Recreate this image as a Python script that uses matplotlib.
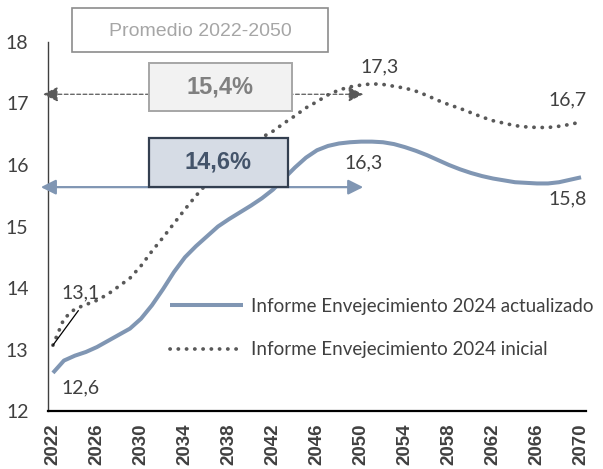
import matplotlib
matplotlib.use("Agg")
import matplotlib.pyplot as plt
from matplotlib.patches import Rectangle

years = list(range(2022, 2071))
actualizado = [12.62, 12.82, 12.90, 12.96, 13.04, 13.14, 13.24, 13.34, 13.50, 13.72,
               13.98, 14.26, 14.50, 14.68, 14.84, 15.00, 15.12, 15.23, 15.34, 15.46,
               15.60, 15.78, 15.96, 16.12, 16.24, 16.31, 16.35, 16.37, 16.38, 16.38,
               16.37, 16.34, 16.29, 16.23, 16.16, 16.08, 16.00, 15.93, 15.87, 15.82,
               15.78, 15.75, 15.72, 15.71, 15.70, 15.70, 15.72, 15.76, 15.80]
inicial = [13.07, 13.50, 13.66, 13.73, 13.80, 13.90, 14.03, 14.16, 14.36, 14.60,
           14.82, 15.05, 15.28, 15.50, 15.70, 15.88, 16.05, 16.20, 16.33, 16.45,
           16.55, 16.68, 16.80, 16.93, 17.03, 17.14, 17.22, 17.27, 17.30, 17.32,
           17.31, 17.28, 17.25, 17.20, 17.13, 17.05, 16.98, 16.92, 16.85, 16.78,
           16.72, 16.68, 16.64, 16.62, 16.61, 16.61, 16.63, 16.66, 16.70]
series_names = ["Informe Envejecimiento 2024 actualizado", "Informe Envejecimiento 2024 inicial"]
xticks = list(range(2022, 2071, 4))
yticks = [12, 13, 14, 15, 16, 17, 18]
avg_title = "Promedio 2022-2050"
avg_inicial_label = "15,4%"
avg_actual_label = "14,6%"
avg_period = (2022, 2050)
label_texts = {"start_act": "12,6", "start_ini": "13,1", "peak_act": "16,3",
               "peak_ini": "17,3", "end_act": "15,8", "end_ini": "16,7"}

W, H = 603, 469
fig = plt.figure(figsize=(W / 100, H / 100), dpi=100)
ax = fig.add_axes([48 / W, 58 / H, 538 / W, 369 / H])

def fx(px):
    return px / W

def fy(py):
    return 1 - py / H

BLUE = "#8096b3"
DOT = "#595959"
TXT = "#404040"
FONT = "Lato"

ax.plot(years, actualizado, color=BLUE, lw=2.9, solid_capstyle="butt", label=series_names[0], zorder=3)
ax.plot(years, inicial, color=DOT, lw=2.7, linestyle=(0, (0.05, 2.15)), dash_capstyle="round",
        label=series_names[1], zorder=3)

ax.set_xlim(2021.55, 2070.45)
ax.set_ylim(12, 18)
ax.set_xticks(xticks)
ax.set_xticklabels([str(t) for t in xticks], rotation=90, fontsize=13.5, color=TXT,
                   family="Liberation Sans", fontweight="bold")
ax.set_yticks(yticks)
ax.set_yticklabels([str(t) for t in yticks], fontsize=14, color=TXT, family=FONT)
ax.tick_params(axis="both", length=0)
ax.tick_params(axis="x", pad=9)
ax.tick_params(axis="y", pad=14)
for s in ["top", "right"]:
    ax.spines[s].set_visible(False)
ax.spines["left"].set_color("#404040")
ax.spines["left"].set_linewidth(1.0)
ax.spines["bottom"].set_color("#000000")
ax.spines["bottom"].set_linewidth(1.6)

# Average arrows (2022-2050)
y_ini_arrow = 17.15
y_act_arrow = 15.64
ax.annotate("", xy=(avg_period[0] - 0.9, y_ini_arrow), xytext=(avg_period[1] + 0.2, y_ini_arrow),
            arrowprops=dict(arrowstyle="<|-|>,head_length=0.9,head_width=0.45", color=DOT,
                            lw=0.9, linestyle=(0, (3, 2)), shrinkA=0, shrinkB=0),
            annotation_clip=False, zorder=4)
ax.annotate("", xy=(avg_period[0] - 1.1, y_act_arrow), xytext=(avg_period[1] + 0.2, y_act_arrow),
            arrowprops=dict(arrowstyle="<|-|>,head_length=0.9,head_width=0.45", color=BLUE,
                            lw=1.6, shrinkA=0, shrinkB=0),
            annotation_clip=False, zorder=4)

def box(x0, y0, x1, y1, fc, ec, lw, z):
    r = Rectangle((fx(x0), fy(y1)), fx(x1) - fx(x0), fy(y0) - fy(y1), transform=fig.transFigure,
                  facecolor=fc, edgecolor=ec, lw=lw, zorder=z)
    fig.add_artist(r)

box(72, 8, 328, 52, "white", "#8c8c8c", 1.2, 5)
fig.text(fx(200), fy(31), avg_title, ha="center", va="center", fontsize=14, color="#a6a6a6",
         family="Liberation Sans", zorder=6)
box(149, 63, 292, 111, "#f2f2f2", "#a6a6a6", 1.4, 5)
fig.text(fx(220.5), fy(87), avg_inicial_label, ha="center", va="center", fontsize=17, color="#808080",
         family="Liberation Sans", fontweight="bold", zorder=6)
box(149, 138, 288, 187, "#d6dce5", "#333f50", 1.6, 5)
fig.text(fx(218.5), fy(162.5), avg_actual_label, ha="center", va="center", fontsize=17, color="#44546a",
         family="Liberation Sans", fontweight="bold", zorder=6)

# Data labels
lab_kw = dict(fontsize=14, color=TXT, family=FONT)
ax.text(2022.8, actualizado[0] - 0.25, label_texts["start_act"], ha="left", va="center", **lab_kw)
ax.text(2022.8, inicial[0] + 0.85, label_texts["start_ini"], ha="left", va="center", **lab_kw)
ax.plot([years[0], 2024.3], [inicial[0], 13.63], color="black", lw=0.9, zorder=4)
i_pk_a = actualizado.index(max(actualizado))
i_pk_i = inicial.index(max(inicial))
ax.text(years[i_pk_a] + 0.2, max(actualizado) - 0.35, label_texts["peak_act"], ha="center", va="center", **lab_kw)
ax.text(years[i_pk_i] + 0.7, max(inicial) + 0.27, label_texts["peak_ini"], ha="center", va="center", **lab_kw)
ax.text(years[-1] - 1.2, actualizado[-1] - 0.35, label_texts["end_act"], ha="center", va="center", **lab_kw)
ax.text(years[-1] - 1.2, inicial[-1] + 0.36, label_texts["end_ini"], ha="center", va="center", **lab_kw)

leg = ax.legend(loc="center left", bbox_to_anchor=(fx(170), fy(328)), bbox_transform=fig.transFigure,
                frameon=False, handlelength=3.9, handletextpad=0.4, labelspacing=1.4,
                borderpad=0, borderaxespad=0, prop=dict(family=FONT, size=13.5))
for t in leg.get_texts():
    t.set_color(TXT)

fig.savefig("out.png", dpi=100)
